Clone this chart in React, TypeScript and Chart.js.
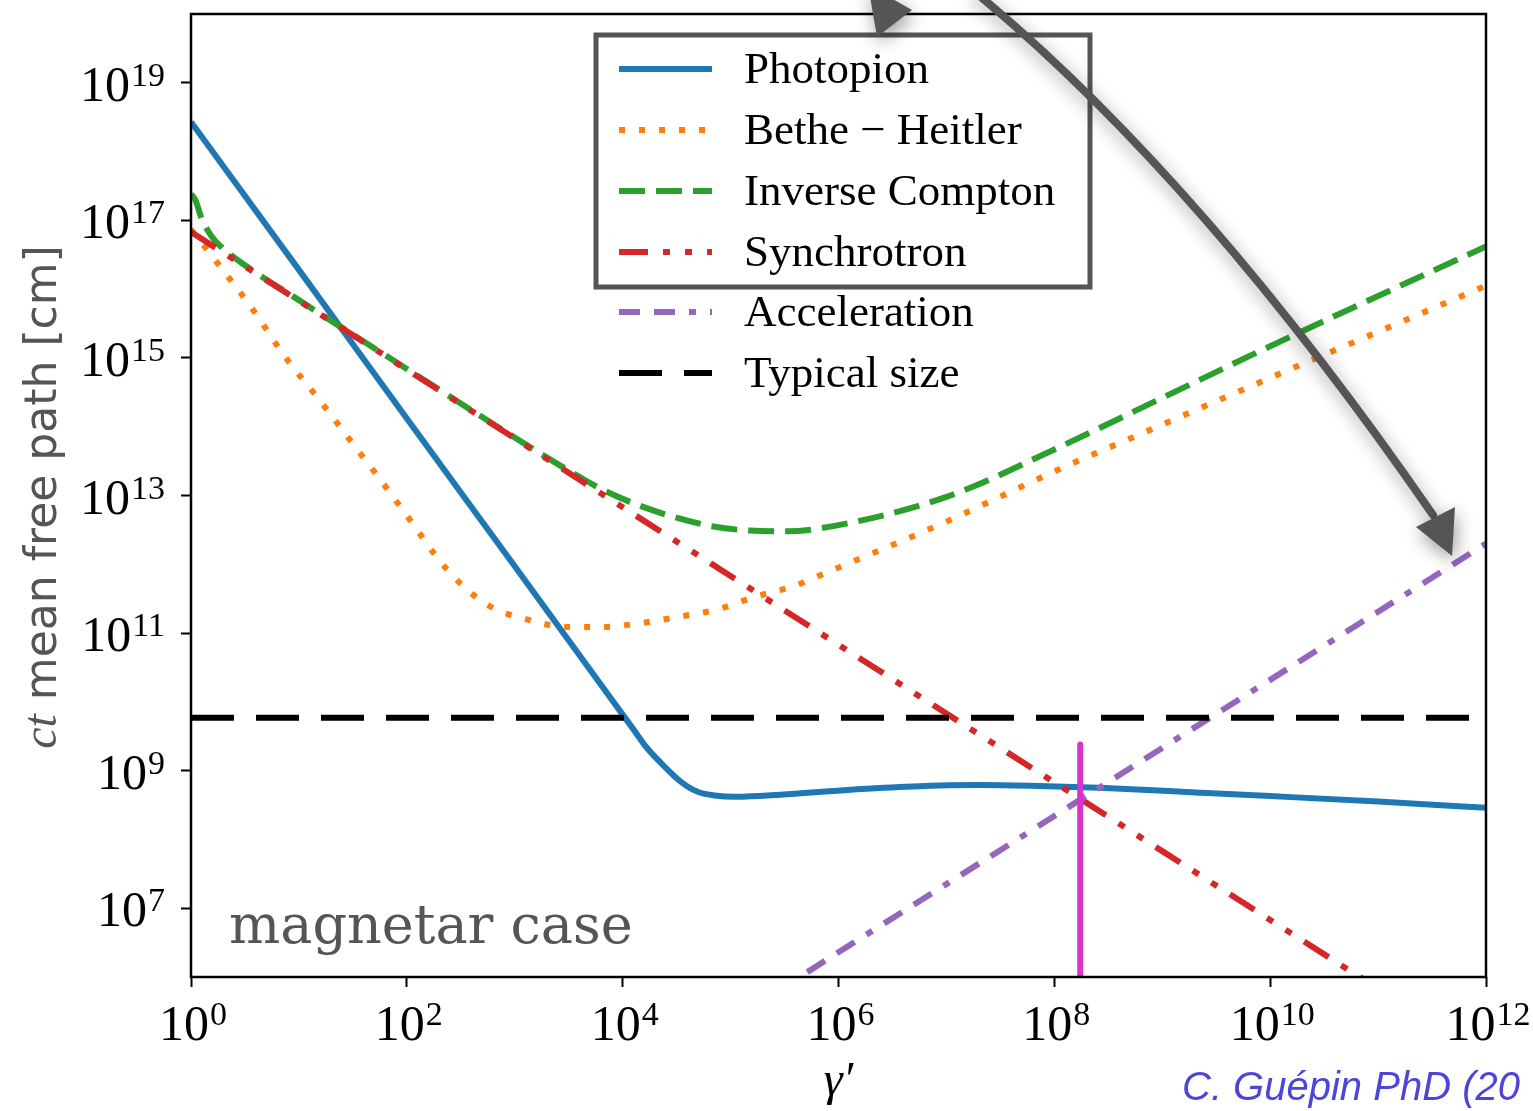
import React, { useEffect, useRef } from 'react';
import { Chart, registerables } from 'chart.js';

Chart.register(...registerables);

// ---- data (log10 values) ----
const photopionLogX = [0, 1, 2, 3, 3.9, 4.1, 4.22, 4.4, 4.5, 4.6, 4.7, 4.85, 5.05, 5.46, 6.08, 6.69, 7.31, 7.77, 8.42, 9.35, 10, 11, 12];
const photopionLogY = [18.43, 16.28, 14.12, 11.97, 10.03, 9.6, 9.34, 9.04, 8.89, 8.77, 8.69, 8.64, 8.62, 8.65, 8.72, 8.77, 8.79, 8.78, 8.75, 8.68, 8.63, 8.55, 8.46];

const betheHeitlerLogX = [0, 0.24, 0.57, 0.87, 1.2, 1.52, 1.75, 2.05, 2.26, 2.49, 2.77, 3.11, 3.48, 3.82, 4.19, 4.53, 4.87, 5.21, 5.58, 5.89, 7, 8, 9, 10, 11, 12];
const betheHeitlerLogY = [16.87, 16.39, 15.71, 15.02, 14.37, 13.71, 13.24, 12.6, 12.14, 11.73, 11.39, 11.2, 11.09, 11.09, 11.15, 11.24, 11.34, 11.52, 11.68, 11.88, 12.62, 13.35, 14.03, 14.71, 15.38, 16.05];

const inverseComptonLogX = [0, 0.04, 0.1, 0.19, 0.29, 0.47, 1, 2, 2.89, 3.3, 3.6, 3.82, 4.13, 4.47, 4.84, 5.18, 5.52, 5.86, 7, 8, 9, 10, 11, 12];
const inverseComptonLogY = [17.38, 17.3, 17.02, 16.77, 16.6, 16.38, 15.84, 14.84, 13.95, 13.55, 13.27, 13.08, 12.87, 12.69, 12.55, 12.49, 12.48, 12.53, 12.98, 13.67, 14.42, 15.17, 15.9, 16.62];

const synchrotronLogX = [0, 1, 2, 3, 4, 5, 6, 7, 8, 9, 10, 11];
const synchrotronLogY = [16.83, 15.83, 14.83, 13.83, 12.83, 11.83, 10.83, 9.83, 8.83, 7.83, 6.83, 5.83];

const accelerationLogX = [5, 6, 7, 8, 9, 10, 11, 12];
const accelerationLogY = [5.36, 6.36, 7.35, 8.34, 9.33, 10.32, 11.31, 12.3];

const typicalSizeLogX = [0, 12];
const typicalSizeLogY = [9.77, 9.77];

const markerLogX = [8.24, 8.24];
const markerLogY = [6, 9.38];

const xTickExponents = [0, 2, 4, 6, 8, 10, 12];
const yTickExponents = [7, 9, 11, 13, 15, 17, 19];

const seriesLabels = ['Photopion', 'Bethe \u2212 Heitler', 'Inverse Compton', 'Synchrotron', 'Acceleration', 'Typical size'];

const SERIF = "'Liberation Serif', 'DejaVu Serif', serif";

function toPoints(lx: number[], ly: number[]) {
  return lx.map((v, i) => ({ x: Math.pow(10, v), y: Math.pow(10, ly[i]) }));
}

function drawPower(ctx: CanvasRenderingContext2D, value: number, x: number, baseY: number, align: 'right' | 'center') {
  const e = String(Math.round(Math.log10(value)));
  const baseFont = `50px ${SERIF}`;
  const expFont = `34px ${SERIF}`;
  ctx.font = baseFont;
  const wb = ctx.measureText('10').width;
  ctx.font = expFont;
  const we = ctx.measureText(e).width;
  const total = wb + 1 + we;
  const x0 = align === 'right' ? x - total : x - total / 2;
  ctx.textAlign = 'left';
  ctx.textBaseline = 'alphabetic';
  ctx.fillStyle = '#000';
  ctx.font = baseFont;
  ctx.fillText('10', x0, baseY);
  ctx.font = expFont;
  ctx.fillText(e, x0 + wb + 1, baseY - 15);
}

const overlayPlugin = {
  id: 'overlay',
  afterDraw(chart: any) {
    const { ctx, chartArea: a } = chart;
    ctx.save();
    // frame
    ctx.strokeStyle = '#000';
    ctx.lineWidth = 2.5;
    ctx.setLineDash([]);
    ctx.strokeRect(a.left, a.top, a.right - a.left, a.bottom - a.top);

    // tick labels (positions from the library's scales)
    const xs = chart.scales.x;
    const ys = chart.scales.y;
    xs.ticks.forEach((t: any) => drawPower(ctx, t.value, xs.getPixelForValue(t.value) + 2, a.bottom + 63, 'center'));
    ys.ticks.forEach((t: any) => drawPower(ctx, t.value, a.left - 26, ys.getPixelForValue(t.value) + 18, 'right'));

    // y axis label
    ctx.save();
    ctx.translate(56, 497);
    ctx.rotate(-Math.PI / 2);
    ctx.fillStyle = '#555';
    ctx.textBaseline = 'alphabetic';
    const f1 = `italic 48px ${SERIF}`;
    const f2 = `44px 'DejaVu Sans', sans-serif`;
    ctx.font = f1;
    const w1 = ctx.measureText('ct').width;
    ctx.font = f2;
    const w2 = ctx.measureText(' mean free path [cm]').width;
    const start = -(w1 + w2) / 2;
    ctx.font = f1;
    ctx.textAlign = 'left';
    ctx.fillText('ct', start, 0);
    ctx.font = f2;
    ctx.fillText(' mean free path [cm]', start + w1, 0);
    ctx.restore();

    // legend
    const rowY = [69, 130, 191, 252, 312, 373];
    const dsets = chart.data.datasets;
    for (let i = 0; i < 6; i++) {
      const ds = dsets[i];
      ctx.save();
      ctx.strokeStyle = ds.borderColor;
      ctx.lineWidth = 6;
      ctx.lineCap = 'butt';
      ctx.setLineDash(ds.borderDash || []);
      ctx.beginPath();
      ctx.moveTo(619, rowY[i]);
      ctx.lineTo(712, rowY[i]);
      ctx.stroke();
      ctx.restore();
      ctx.fillStyle = '#000';
      ctx.font = `45px ${SERIF}`;
      ctx.textAlign = 'left';
      ctx.textBaseline = 'alphabetic';
      ctx.fillText(ds.label, 744, rowY[i] + 14);
    }

    // hand drawn box around first four entries
    ctx.save();
    ctx.strokeStyle = '#555';
    ctx.lineWidth = 5;
    ctx.setLineDash([]);
    ctx.strokeRect(596, 35, 494, 252);
    ctx.restore();

    // arrows with shadows
    ctx.save();
    ctx.shadowColor = 'rgba(0,0,0,0.4)';
    ctx.shadowBlur = 18;
    ctx.shadowOffsetX = 2;
    ctx.shadowOffsetY = 6;
    ctx.fillStyle = '#555';
    ctx.strokeStyle = '#555';
    ctx.beginPath();
    ctx.moveTo(868, -15);
    ctx.lineTo(877, 37);
    ctx.lineTo(912, 10);
    ctx.closePath();
    ctx.fill();

    ctx.lineWidth = 8;
    ctx.lineCap = 'round';
    ctx.beginPath();
    ctx.moveTo(975, -8);
    ctx.quadraticCurveTo(1200, 178, 1433, 515);
    ctx.stroke();
    ctx.beginPath();
    ctx.moveTo(1416, 527);
    ctx.lineTo(1455, 507);
    ctx.lineTo(1452, 556);
    ctx.closePath();
    ctx.fill();
    ctx.restore();

    // annotation texts
    ctx.fillStyle = '#555';
    ctx.font = `54px 'DejaVu Serif', serif`;
    ctx.textAlign = 'left';
    ctx.textBaseline = 'alphabetic';
    ctx.fillText('magnetar case', 229, 943);

    ctx.fillStyle = '#4b45d8';
    ctx.font = `italic 40px 'Liberation Sans', Arial, sans-serif`;
    ctx.fillText('C. Gu\u00e9pin PhD (20', 1182, 1100);
    ctx.restore();
  },
};

export default function App() {
  const ref = useRef<HTMLCanvasElement>(null);
  useEffect(() => {
    const canvas = ref.current as HTMLCanvasElement;
    const common = { pointRadius: 0, borderWidth: 6, fill: false, borderCapStyle: 'butt' as const };
    const datasets: any[] = [
      { ...common, label: seriesLabels[0], data: toPoints(photopionLogX, photopionLogY), borderColor: '#1f77b4', borderDash: [], cubicInterpolationMode: 'monotone', order: 6 },
      { ...common, label: seriesLabels[1], data: toPoints(betheHeitlerLogX, betheHeitlerLogY), borderColor: '#ff7f0e', borderDash: [6, 14], cubicInterpolationMode: 'monotone', order: 5 },
      { ...common, label: seriesLabels[2], data: toPoints(inverseComptonLogX, inverseComptonLogY), borderColor: '#2ca02c', borderDash: [26, 11], cubicInterpolationMode: 'monotone', order: 4 },
      { ...common, label: seriesLabels[3], data: toPoints(synchrotronLogX, synchrotronLogY), borderColor: '#d62728', borderDash: [29, 15, 7, 15, 7, 15], order: 3 },
      { ...common, label: seriesLabels[4], data: toPoints(accelerationLogX, accelerationLogY), borderColor: '#9467bd', borderDash: [21, 14, 21, 14, 7, 14], order: 2 },
      { ...common, label: seriesLabels[5], data: toPoints(typicalSizeLogX, typicalSizeLogY), borderColor: '#000000', borderDash: [43, 22], order: 1 },
      { ...common, label: 'marker', data: toPoints(markerLogX, markerLogY), borderColor: '#d633cf', borderWidth: 6, borderCapStyle: 'round', order: 0 },
    ];
    const chart = new Chart(canvas, {
      type: 'line',
      data: { datasets },
      options: {
        animation: false,
        responsive: false,
        devicePixelRatio: 1,
        layout: { padding: { top: 14, right: 47, left: 0, bottom: 0 } },
        plugins: { legend: { display: false }, tooltip: { enabled: false } },
        scales: {
          x: {
            type: 'logarithmic',
            min: 1,
            max: 1e12,
            afterBuildTicks: (s: any) => { s.ticks = xTickExponents.map((e) => ({ value: Math.pow(10, e) })); },
            afterFit: (s: any) => { s.height = 134; s.paddingLeft = 0; s.paddingRight = 0; s.paddingTop = 0; s.paddingBottom = 0; },
            ticks: { display: false, autoSkip: false, maxRotation: 0 },
            grid: { display: true, drawOnChartArea: false, drawTicks: true, tickLength: 10, tickWidth: 2, tickColor: '#000' },
            border: { display: false },
            title: { display: true, text: '\u03b3\u2032', font: { family: SERIF, size: 48, style: 'italic' }, color: '#000', padding: { top: 0, bottom: 0 } },
          },
          y: {
            type: 'logarithmic',
            min: 1e6,
            max: 1e20,
            afterBuildTicks: (s: any) => { s.ticks = yTickExponents.map((e) => ({ value: Math.pow(10, e) })); },
            afterFit: (s: any) => { s.width = 191; s.paddingLeft = 0; s.paddingRight = 0; s.paddingTop = 0; s.paddingBottom = 0; },
            ticks: { display: false, autoSkip: false },
            grid: { display: true, drawOnChartArea: false, drawTicks: true, tickLength: 10, tickWidth: 2, tickColor: '#000' },
            border: { display: false },
          },
        },
      } as any,
      plugins: [overlayPlugin],
    });
    return () => chart.destroy();
  }, []);
  return (
    <div style={{ position: 'absolute', left: 0, top: 0, width: 1533, height: 1111, background: '#fff' }}>
      <canvas ref={ref} width={1533} height={1111} style={{ display: 'block' }} />
    </div>
  );
}
